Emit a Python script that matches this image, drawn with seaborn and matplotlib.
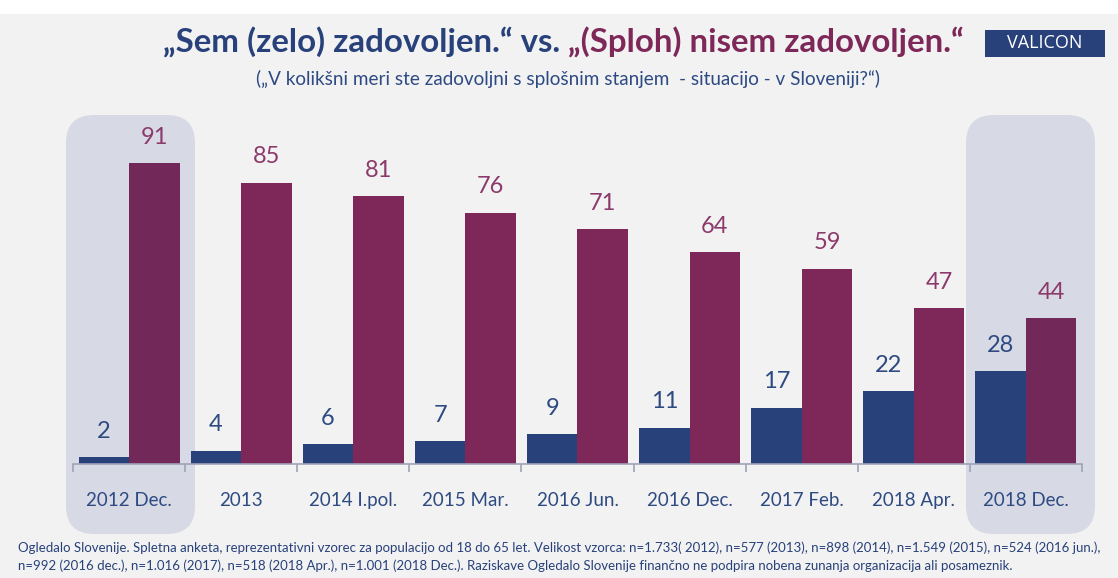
import matplotlib.pyplot as plt
import matplotlib.patches as mpatches
import numpy as np
import pandas as pd
import seaborn as sns

# data
periods = ['2012 Dec.', '2013', '2014 I.pol.', '2015 Mar.', '2016 Jun.',
           '2016 Dec.', '2017 Feb.', '2018 Apr.', '2018 Dec.']
zadovoljen = [2, 4, 6, 7, 9, 11, 17, 22, 28]
nezadovoljen = [91, 85, 81, 76, 71, 64, 59, 47, 44]
series_names = ['Sem (zelo) zadovoljen.', '(Sploh) nisem zadovoljen.']

df = pd.DataFrame({
    'period': periods * 2,
    'value': zadovoljen + nezadovoljen,
    'series': [series_names[0]] * len(periods) + [series_names[1]] * len(periods),
})

BLUE = '#28417a'
PURPLE = '#7d2858'
PURPLE_HL = '#72295a'
BG = '#f2f2f2'
HL = '#d7dae4'
TXT_BLUE = '#2e4a82'
TXT_PURPLE = '#8b3a6b'
AXIS = '#9ea3b8'

sns.set_style('white')
plt.rcParams['font.family'] = ['Lato', 'DejaVu Sans']

W, H = 1118, 578
fig = plt.figure(figsize=(W / 100, H / 100), dpi=100)
fig.patch.set_facecolor(BG)
renderer = fig.canvas.get_renderer()


def fit_width(txt, target_px):
    # scale font so the text spans about target_px
    w = txt.get_window_extent(renderer).width
    txt.set_fontsize(txt.get_fontsize() * target_px / w)


# white strip at the very top
fig.add_artist(mpatches.Rectangle((0, 1 - 14 / H), 1, 14 / H, transform=fig.transFigure,
                                  facecolor='white', edgecolor='none', zorder=0))

# highlight boxes behind first and last group
for x0, x1 in [(66, 195), (966, 1095)]:
    box = mpatches.FancyBboxPatch((x0 / W, (H - 534) / H), (x1 - x0) / W, (534 - 115) / H,
                                  boxstyle='round,pad=0,rounding_size=0.025',
                                  mutation_aspect=W / H,
                                  transform=fig.transFigure, facecolor=HL,
                                  edgecolor='none', zorder=0)
    fig.add_artist(box)

ax = fig.add_axes([73 / W, (H - 464) / H, 1009 / W, 364 / H])
ax.set_facecolor('none')

sns.barplot(data=df, x='period', y='value', hue='series', palette=[BLUE, PURPLE],
            width=0.9, saturation=1, legend=False, linewidth=0, edgecolor='none', ax=ax)

# slightly darker purple on highlighted groups
purple_bars = ax.containers[1]
for i in (0, len(periods) - 1):
    purple_bars[i].set_facecolor(PURPLE_HL)

ax.bar_label(ax.containers[0], padding=11, color=TXT_BLUE, fontsize=17)
ax.bar_label(ax.containers[1], padding=11, color=TXT_PURPLE, fontsize=17)

ax.set_xlabel('')
ax.set_ylabel('')
ax.set_yticks([])
for s in ['top', 'right', 'left']:
    ax.spines[s].set_visible(False)
ax.spines['bottom'].set_color(AXIS)
ax.spines['bottom'].set_linewidth(1.2)
ax.set_xticks(np.arange(-0.5, len(periods)), minor=True)
ax.tick_params(axis='x', which='major', bottom=False, length=0, pad=20,
               labelsize=13.5, labelcolor=TXT_BLUE)
ax.tick_params(axis='x', which='minor', bottom=True, length=6, color=AXIS, width=1.2)
ax.set_xlim(-0.5, len(periods) - 0.5)
ax.set_ylim(0, 110)

# title in two colours
t1 = fig.text(163 / W, 1 - 43 / H, '„Sem (zelo) zadovoljen.“ vs. ', color=BLUE,
              fontsize=20, fontweight='bold', va='center', ha='left')
t2 = fig.text(0.5, 1 - 43 / H, '„(Sploh) nisem zadovoljen.“', color=PURPLE,
              fontsize=20, fontweight='bold', va='center', ha='left')
total = t1.get_window_extent(renderer).width + t2.get_window_extent(renderer).width
for t in (t1, t2):
    t.set_fontsize(t.get_fontsize() * 800 / total)
t2.set_x(t1.get_window_extent(renderer).x1 / W)

sub = fig.text(568 / W, 1 - 79 / H,
               '(„V kolikšni meri ste zadovoljni s splošnim stanjem  - situacijo - v Sloveniji?“)',
               color=TXT_BLUE, fontsize=12, va='center', ha='center')
fit_width(sub, 620)

# logo
fig.add_artist(mpatches.Rectangle((985 / W, 1 - 57 / H), 120 / W, 27 / H,
                                  transform=fig.transFigure, facecolor=BLUE, edgecolor='none'))
fig.text(1045 / W, 1 - 43.5 / H, 'VALICON', color='white', fontsize=13, ha='center',
         va='center', family=['Open Sans', 'DejaVu Sans'])

# footnote
foot1 = ('Ogledalo Slovenije. Spletna anketa, reprezentativni vzorec za populacijo od 18 do 65 let. '
         'Velikost vzorca: n=1.733( 2012), n=577 (2013), n=898 (2014), n=1.549 (2015), n=524 (2016 jun.),')
foot2 = ('n=992 (2016 dec.), n=1.016 (2017), n=518 (2018 Apr.), n=1.001 (2018 Dec.). '
         'Raziskave Ogledalo Slovenije finančno ne podpira nobena zunanja organizacija ali posameznik.')
f1 = fig.text(18 / W, 1 - 548 / H, foot1, color=BLUE, fontsize=8, va='center', ha='left')
fit_width(f1, 1090)
fig.text(18 / W, 1 - 566 / H, foot2, color=BLUE, fontsize=f1.get_fontsize(), va='center', ha='left')

fig.savefig('out.png', dpi=100, facecolor=fig.get_facecolor())
